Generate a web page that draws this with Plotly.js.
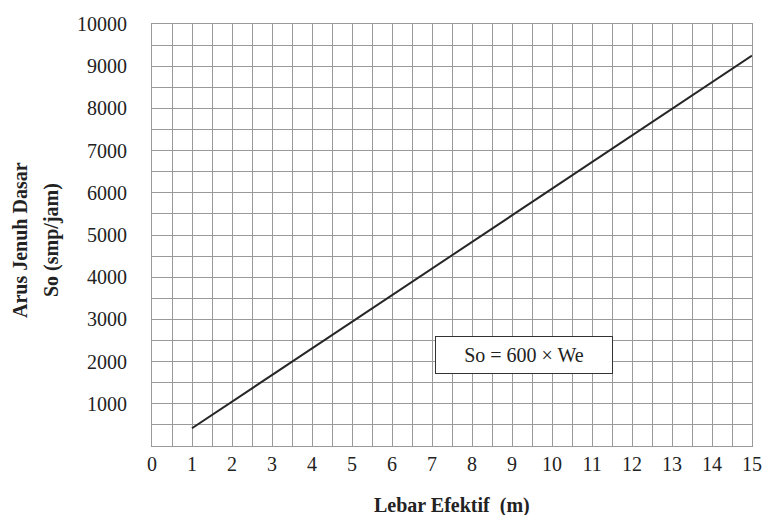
<!DOCTYPE html>
<html>
<head>
<meta charset="utf-8">
<script src="https://cdn.plot.ly/plotly-3.0.1.min.js"></script>
<style>
#chart svg text { font-family: "Times New Roman", "Liberation Serif", serif !important; }
</style>
</head>
<body style="margin:0;background:#fff">
<div id="chart" style="width:763px;height:515px"></div>
<script>
// Data
const widthM = [1, 15];
const saturationFlow = [420, 9250];
const xTickVals = [0,1,2,3,4,5,6,7,8,9,10,11,12,13,14,15];
const yTickVals = [1000,2000,3000,4000,5000,6000,7000,8000,9000,10000];
const formulaText = "So = 600 × We";
const xTitle = "Lebar Efektif  (m)";
const yTitleLines = ["Arus Jenuh Dasar", "So (smp/jam)"];

const FAM = "Times New Roman";
const gridColor = "#9a9a9a";

const trace = {
  x: widthM, y: saturationFlow, type: "scatter", mode: "lines",
  line: {color: "#262626", width: 2}, hoverinfo: "skip", showlegend: false
};

const pw = 763 - 152 - 11, ph = 515 - 24 - 69;
function px(x) { return (x - 152) / pw; }
function py(y) { return (515 - 69 - y) / ph; }

const layout = {
  width: 763, height: 515,
  margin: {l: 152, r: 11, t: 24, b: 69},
  paper_bgcolor: "#fff", plot_bgcolor: "#fff",
  font: {family: FAM, size: 18},
  xaxis: {
    range: [0, 15], tickvals: xTickVals, ticktext: xTickVals.map(String),
    showgrid: true, gridcolor: gridColor, gridwidth: 1,
    minor: {dtick: 0.5, showgrid: true, gridcolor: gridColor, gridwidth: 1},
    showline: true, mirror: true, linecolor: gridColor, linewidth: 1,
    zeroline: false, ticks: "", tickfont: {family: FAM, size: 20, color: "#222"}
  },
  yaxis: {
    range: [0, 10000], tickvals: yTickVals, ticktext: yTickVals.map(String),
    showgrid: true, gridcolor: gridColor, gridwidth: 1,
    minor: {dtick: 500, showgrid: true, gridcolor: gridColor, gridwidth: 1},
    showline: true, mirror: true, linecolor: gridColor, linewidth: 1,
    zeroline: false, ticks: "", ticklabelstandoff: 20,
    tickfont: {family: FAM, size: 20, color: "#222"}
  },
  annotations: [
    {x: 9.31, y: 2145, xref: "x", yref: "y", text: formulaText, showarrow: false,
     font: {family: FAM, size: 20, color: "#222"}, bgcolor: "#fff",
     bordercolor: "#333", borderwidth: 1, borderpad: 7, width: 162},
    {x: px(452), y: py(505), xref: "paper", yref: "paper", xanchor: "center", yanchor: "middle",
     text: "<b>" + xTitle + "</b>", showarrow: false,
     font: {family: FAM, size: 20, color: "#222"}},
    {x: px(20), y: py(240), xref: "paper", yref: "paper", xanchor: "center", yanchor: "middle",
     text: "<b>" + yTitleLines[0] + "</b>", showarrow: false, textangle: -90,
     font: {family: FAM, size: 20, color: "#222"}},
    {x: px(52), y: py(240), xref: "paper", yref: "paper", xanchor: "center", yanchor: "middle",
     text: "<b>" + yTitleLines[1] + "</b>", showarrow: false, textangle: -90,
     font: {family: FAM, size: 20, color: "#222"}}
  ]
};

Plotly.newPlot("chart", [trace], layout, {displayModeBar: false});
</script>
</body>
</html>
